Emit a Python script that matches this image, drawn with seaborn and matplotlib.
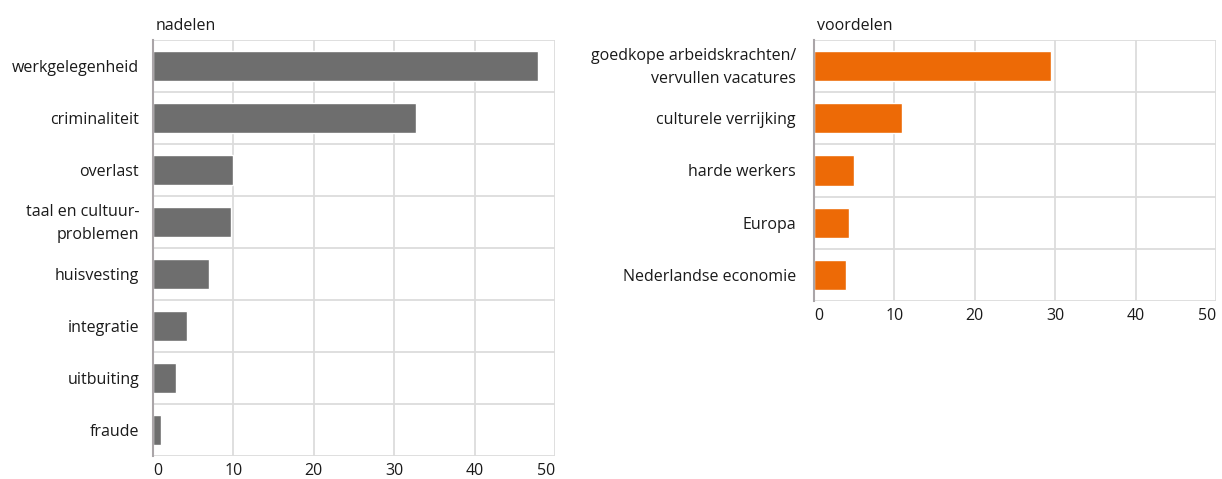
import matplotlib
matplotlib.use("Agg")
import matplotlib.pyplot as plt
import matplotlib.transforms as mtransforms
import seaborn as sns
import pandas as pd
import numpy as np

nadelen_labels = ["werkgelegenheid", "criminaliteit", "overlast", "taal en cultuur-\nproblemen",
                  "huisvesting", "integratie", "uitbuiting", "fraude"]
nadelen_values = [47.9, 32.7, 9.9, 9.7, 7.0, 4.2, 2.9, 1.0]

voordelen_labels = ["goedkope arbeidskrachten/\nvervullen vacatures", "culturele verrijking",
                    "harde werkers", "Europa", "Nederlandse economie"]
voordelen_values = [29.5, 10.9, 5.0, 4.3, 4.0]

x_ticks = [0, 10, 20, 30, 40, 50]

sns.set_theme(style="white")
plt.rcParams['font.family'] = ['Open Sans', 'DejaVu Sans']

W, H = 1222, 479
fig = plt.figure(figsize=(W / 100, H / 100), dpi=100)

def px_axes(x0, x1, y0, y1):
    return fig.add_axes([x0 / W, (H - y1) / H, (x1 - x0) / W, (y1 - y0) / H])

ax1 = px_axes(153, 555, 40, 456)
ax2 = px_axes(814, 1216, 40, 301)

grid_c = "#dcdcdc"
spine_c = "#aaa5a8"
text_c = "#1a1a1a"

def draw(ax, labels, values, color, title, ypad):
    df = pd.DataFrame({"label": labels, "value": values})
    sns.barplot(data=df, y="label", x="value", orient="h", color=color,
                width=0.58, saturation=1, ax=ax, zorder=3)
    n = len(labels)
    ax.set_xlim(0, 50)
    ax.set_ylim(n - 0.5, -0.5)
    ax.set_xticks(x_ticks)
    ax.set_xticklabels([str(t) for t in x_ticks])
    xl = ax.get_xticklabels()
    xl[0].set_horizontalalignment("left")
    xl[-1].set_horizontalalignment("right")
    ax.set_yticks(np.arange(n), minor=False)
    ax.set_yticks(np.arange(n + 1) - 0.5, minor=True)
    ax.grid(False)
    ax.xaxis.grid(True, which="major", color=grid_c, lw=1.3, zorder=0)
    ax.yaxis.grid(True, which="minor", color=grid_c, lw=1.3, zorder=0)
    ax.set_axisbelow(True)
    for s in ["top", "right", "bottom"]:
        ax.spines[s].set_visible(False)
    ax.spines["left"].set_color(spine_c)
    ax.spines["left"].set_linewidth(1.5)
    ax.spines["left"].set_zorder(5)
    ax.tick_params(axis="both", which="both", length=0, labelsize=11.5, colors=text_c)
    ax.tick_params(axis="y", pad=ypad)
    ax.tick_params(axis="x", pad=5)
    ax.set_xlabel("")
    ax.set_ylabel("")
    ax.annotate(title, xy=(0, 1), xycoords="axes fraction", xytext=(3, 10),
                textcoords="offset pixels", ha="left", va="baseline",
                fontsize=11.5, color=text_c)
    shift = mtransforms.ScaledTranslation(0, 4 / 100, fig.dpi_scale_trans)
    for lab in ax.get_yticklabels():
        lab.set_multialignment("right")
        if "\n" in lab.get_text():
            lab.set_linespacing(1.6)
            lab.set_transform(lab.get_transform() + shift)

draw(ax1, nadelen_labels, nadelen_values, "#6e6e6e", "nadelen", 10)
draw(ax2, voordelen_labels, voordelen_values, "#ed6a06", "voordelen", 13)

fig.savefig("out.png", dpi=100)
